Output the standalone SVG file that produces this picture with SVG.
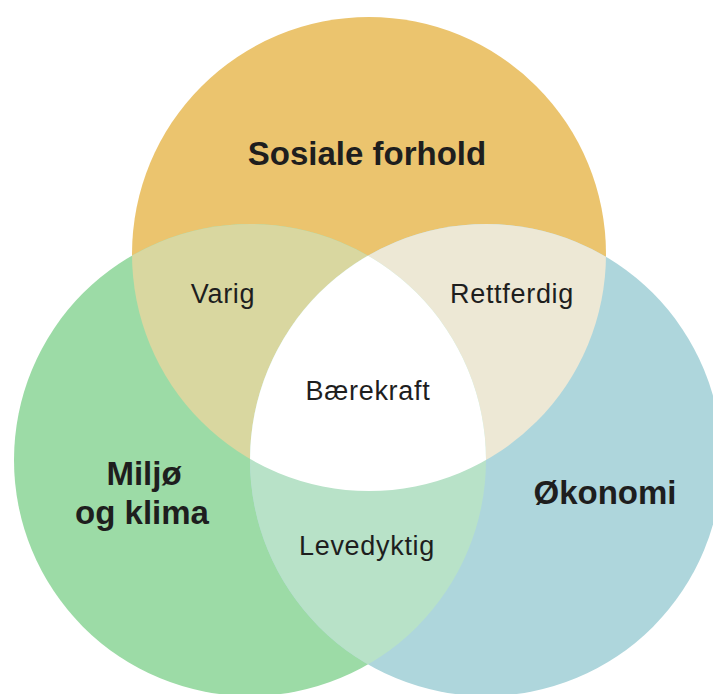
<svg xmlns="http://www.w3.org/2000/svg" width="713" height="694" viewBox="0 0 713 694">
<style>
.t{font-family:"Liberation Sans",Arial,sans-serif;fill:#1e1e1e;text-anchor:middle}
.b{font-weight:bold;font-size:33px}
.r{font-size:27px;letter-spacing:0.7px}
</style>
<defs>
<clipPath id="cT"><circle cx="369" cy="254" r="237"/></clipPath>
<clipPath id="cL"><circle cx="250" cy="460" r="236"/></clipPath>
</defs>
<rect width="713" height="694" fill="#ffffff"/>
<g id="sosiale">
<circle cx="369" cy="254" r="237" fill="#EBC46E"/>
</g>
<g id="miljo">
<circle cx="250" cy="460" r="236" fill="#9CDBA6"/>
</g>
<g id="okonomi">
<circle cx="486" cy="460" r="236" fill="#AED6DC"/>
</g>
<g id="varig" clip-path="url(#cT)">
<circle cx="250" cy="460" r="236" fill="#D9D7A0"/>
</g>
<g id="rettferdig" clip-path="url(#cT)">
<circle cx="486" cy="460" r="236" fill="#EDE8D5"/>
</g>
<g id="levedyktig" clip-path="url(#cL)">
<circle cx="486" cy="460" r="236" fill="#B8E2C8"/>
</g>
<g id="baerekraft" clip-path="url(#cT)">
<g clip-path="url(#cL)">
<circle cx="486" cy="460" r="236" fill="#ffffff"/>
</g>
</g>
<g id="labels">
<text class="t b" x="367" y="165">Sosiale forhold</text>
<text class="t r" x="223" y="303">Varig</text>
<text class="t r" x="512" y="303">Rettferdig</text>
<text class="t r" x="368" y="400">Bærekraft</text>
<text class="t r" x="367" y="555">Levedyktig</text>
<text class="t b" x="144" y="485">Miljø</text>
<text class="t b" x="142" y="524">og klima</text>
<text class="t b" x="605" y="504">Økonomi</text>
</g>
</svg>
